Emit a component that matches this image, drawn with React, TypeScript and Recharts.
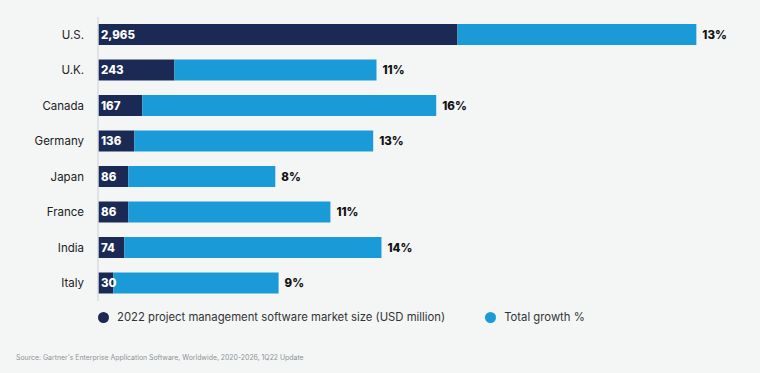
import { BarChart, Bar, XAxis, YAxis, LabelList } from "recharts";

const countries = ["U.S.", "U.K.", "Canada", "Germany", "Japan", "France", "India", "Italy"];
// 2022 market size, USD million (printed inside the navy segment)
const marketSize = [2965, 243, 167, 136, 86, 86, 74, 30];
// total growth %, the light segment is drawn to scale
const growth = [13, 11, 16, 13, 8, 11, 14, 9];
// navy segment length as drawn in the source (not to scale), in growth-axis units
const sizeBarLength = [19.57, 4.16, 2.41, 1.98, 1.65, 1.65, 1.43, 0.83];

const data = countries.map((country, i) => ({
  country,
  size: marketSize[i],
  sizeBar: sizeBarLength[i],
  growth: growth[i],
}));

const NAVY = "#1b2a55";
const BLUE = "#1a9ad6";
const FONT = "Inter, 'Noto Sans', sans-serif";

export default function App() {
  return (
    <div
      style={{
        position: "absolute",
        top: 0,
        left: 0,
        width: 760,
        height: 373,
        background: "#f4f6f6",
        fontFamily: FONT,
      }}
    >
      <BarChart
        width={760}
        height={301}
        data={data}
        layout="vertical"
        margin={{ top: 17, right: 19, bottom: 0, left: 0 }}
        barSize={21}
      >
        <XAxis type="number" hide domain={[0, 35]} />
        <YAxis
          type="category"
          dataKey="country"
          width={98}
          tickLine={false}
          axisLine={{ stroke: "#d9dddd", strokeWidth: 1.5 }}
          tickMargin={8}
          tick={{ fill: "#222", fontSize: 11.5, fontFamily: FONT }}
        />
        <Bar dataKey="sizeBar" stackId="a" fill={NAVY} isAnimationActive={false}>
          <LabelList
            dataKey="size"
            position="insideLeft"
            offset={3}
            formatter={(v: number) => v.toLocaleString("en-US")}
            style={{ fill: "#fff", fontWeight: 800, fontSize: 11.5, fontFamily: FONT }}
          />
        </Bar>
        <Bar dataKey="growth" stackId="a" fill={BLUE} isAnimationActive={false}>
          <LabelList
            dataKey="growth"
            position="right"
            offset={6}
            formatter={(v: number) => `${v}%`}
            style={{ fill: "#111", fontWeight: 800, fontSize: 11.5, fontFamily: FONT }}
          />
        </Bar>
      </BarChart>
      <div
        style={{
          position: "absolute",
          top: 310,
          left: 98,
          display: "flex",
          alignItems: "center",
          fontSize: 11.3,
          color: "#333",
        }}
      >
        <span style={{ width: 11, height: 11, borderRadius: "50%", background: NAVY, marginRight: 8 }} />
        <span>2022 project management software market size (USD million)</span>
        <span
          style={{ width: 11, height: 11, borderRadius: "50%", background: BLUE, marginLeft: 40, marginRight: 8 }}
        />
        <span>Total growth %</span>
      </div>
      <div
        style={{
          position: "absolute",
          top: 353,
          left: 16,
          fontSize: 6.9,
          color: "#8d9296",
        }}
      >
        Source: Gartner's Enterprise Application Software, Worldwide, 2020-2026, 1Q22 Update
      </div>
    </div>
  );
}
